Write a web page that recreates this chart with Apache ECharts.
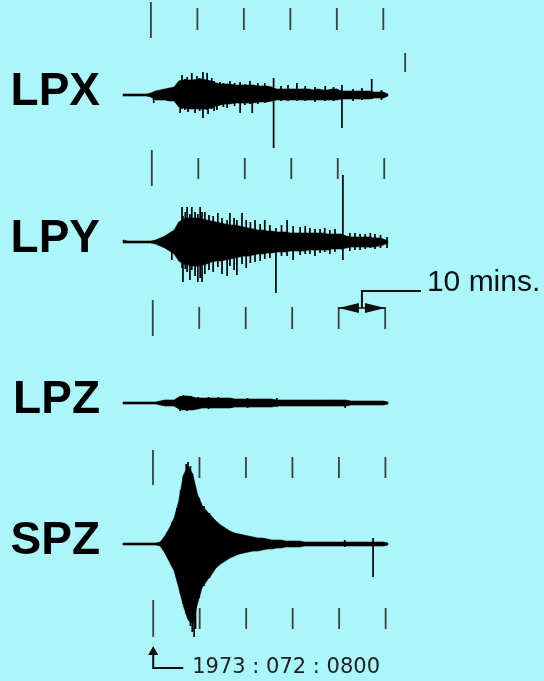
<!DOCTYPE html>
<html>
<head>
<meta charset="utf-8">
<script src="https://cdn.jsdelivr.net/npm/echarts@6/dist/echarts.min.js"></script>
<style>
html,body{margin:0;padding:0;background:#aaf6fa;}
#main{width:544px;height:681px;}
</style>
</head>
<body>
<div id="main"></div>
<script>
// 通道
var channels = ['LPX', 'LPY', 'LPZ', 'SPZ'];
// trace baselines, record units (downwards)
var baselines = [95, 242, 403, 544];
// one sample per minute, -6 .. 51 min after 08:00
var sampleTimes = [-6, -5, -4, -3, -2, -1, 0, 1, 2, 3, 4, 5, 6, 7, 8, 9, 10, 11, 12, 13,
  14, 15, 16, 17, 18, 19, 20, 21, 22, 23, 24, 25, 26, 27, 28, 29, 30, 31, 32, 33,
  34, 35, 36, 37, 38, 39, 40, 41, 42, 43, 44, 45, 46, 47, 48, 49, 50, 51];

// envelope above / below baseline
var lpxUp = [1, 1, 1, 1, 1, 1, 2, 4, 5, 6, 7, 8, 14, 15, 15, 15, 16, 16, 15, 14, 12, 11,
  11, 11, 10, 10, 10, 10, 10, 9, 9, 9, 8, 6, 6, 6, 6, 6, 6, 6, 6, 5,
  6, 5, 5, 6, 6, 4, 4, 4, 4, 4, 4, 4, 3, 3, 3, 1];
var lpxDown = [1, 1, 1, 1, 1, 1, 2, 5, 5, 5, 6, 6, 12, 13, 14, 14, 14, 14, 14, 13, 11, 10,
  9, 9, 8, 8, 8, 8, 8, 7, 7, 7, 6, 5, 5, 5, 5, 5, 5, 5, 5, 5,
  5, 5, 5, 5, 5, 4, 4, 4, 4, 4, 4, 4, 3, 3, 3, 1];
var lpyUp = [2, 1, 1, 1, 1, 1, 1, 2, 4, 6, 9, 12, 20, 23, 24, 24, 24, 23, 22, 21, 20, 19,
  18, 17, 17, 16, 15, 14, 13, 12, 12, 11, 11, 10, 10, 10, 9, 9, 9, 9, 9, 9,
  9, 9, 8, 8, 8, 8, 6, 5, 5, 5, 5, 5, 4, 4, 3, 1];
var lpyDown = [1, 1, 1, 1, 1, 1, 1, 2, 4, 6, 9, 12, 19, 22, 23, 24, 24, 23, 22, 20, 19, 19,
  18, 17, 16, 15, 14, 14, 13, 12, 12, 11, 11, 10, 10, 10, 9, 9, 9, 9, 8, 8,
  8, 8, 8, 7, 7, 7, 6, 5, 5, 5, 5, 5, 5, 4, 3, 1];
var lpzUp = [1, 1, 1, 1, 1, 1, 1, 1, 2, 3, 3, 3, 6, 7, 7, 6, 5, 5, 5, 5, 5, 5,
  5, 5, 4, 4, 4, 4, 4, 4, 4, 4, 4, 3, 3, 3, 3, 3, 3, 3, 3, 3,
  3, 3, 3, 3, 3, 3, 3, 2, 2, 2, 2, 2, 2, 2, 2, 1];
var lpzDown = [1, 1, 1, 1, 1, 1, 1, 1, 2, 3, 3, 3, 6, 7, 7, 7, 6, 5, 5, 5, 5, 5,
  5, 5, 4, 4, 4, 4, 4, 4, 4, 4, 4, 3, 3, 3, 3, 3, 3, 3, 3, 3,
  3, 3, 3, 3, 3, 3, 3, 2, 2, 2, 2, 2, 2, 2, 2, 1];
var spzUp = [1, 1, 1, 1, 1, 1, 1, 1, 2, 8, 16, 26, 43, 69, 78, 70, 50, 39, 33, 28, 23, 19,
  16, 13, 11, 10, 9, 8, 7, 6, 6, 5, 4, 4, 4, 3, 3, 3, 3, 2, 2, 2,
  2, 2, 2, 2, 2, 2, 2, 2, 2, 2, 2, 2, 2, 2, 2, 1];
var spzDown = [1, 1, 1, 1, 1, 1, 1, 1, 2, 9, 18, 27, 44, 62, 76, 80, 60, 44, 37, 31, 24, 20,
  17, 14, 12, 10, 9, 8, 7, 7, 6, 5, 5, 4, 4, 3, 3, 3, 3, 2, 2, 2,
  2, 2, 2, 2, 2, 2, 2, 2, 2, 2, 2, 2, 2, 2, 2, 1];

// single spikes [min, up, down]
var lpxSpikes = [[0.6, 2, 8], [6.3, 12, 18], [6.7, 20, 14], [7.3, 16, 15], [7.8, 18, 12],
  [8.0, 14, 17], [8.8, 22, 14], [9.5, 15, 18], [9.9, 19, 14], [10.5, 17, 16],
  [11.2, 23, 23], [12.1, 22, 15], [12.3, 15, 19], [13.1, 17, 14], [13.6, 14, 16],
  [14.2, 12, 15], [14.9, 13, 10], [15.6, 12, 12], [16.4, 10, 13], [17.0, 14, 9],
  [18.0, 12, 11], [19.2, 13, 18], [20.2, 11, 10], [21.3, 14, 9], [21.8, 10, 18],
  [23.0, 12, 9], [24.5, 12, 8], [26.4, 17, 53], [28.0, 9, 6], [29.5, 10, 6],
  [31.4, 12, 6], [33.2, 9, 6], [35.3, 8, 7], [37.5, 9, 6], [39.3, 8, 6],
  [41.1, 10, 33], [43.5, 6, 6], [45.4, 7, 5], [47.5, 16, 4], [49.6, 5, 5]];
var lpySpikes = [[4.5, 10, 18], [6.7, 35, 26], [6.9, 26, 40], [7.4, 30, 27], [7.8, 35, 30],
  [8.4, 28, 38], [8.8, 35, 28], [9.5, 30, 34], [10.1, 28, 40], [10.6, 35, 36],
  [11.0, 30, 40], [11.6, 30, 32], [12.5, 27, 28], [13.4, 26, 30], [14.4, 29, 25],
  [15.3, 24, 32], [16.4, 22, 34], [17.0, 29, 24], [17.9, 24, 28], [18.5, 22, 33],
  [19.6, 29, 22], [20.5, 22, 26], [21.4, 20, 21], [22.4, 22, 20], [23.5, 18, 19],
  [24.5, 22, 17], [25.6, 17, 16], [26.9, 14, 51], [28.1, 17, 14], [29.3, 22, 14],
  [30.6, 16, 18], [32.1, 15, 13], [33.2, 16, 12], [34.2, 14, 12], [35.3, 13, 14],
  [36.4, 13, 11], [37.4, 14, 10], [38.5, 12, 12], [39.6, 13, 10], [41.3, 67, 18],
  [42.8, 9, 9], [43.9, 9, 8], [45.0, 8, 8], [46.1, 8, 7], [47.2, 9, 6],
  [48.2, 8, 7], [49.4, 7, 6], [50.8, 5, 6]];
var lpzSpikes = [[6.3, 7, 8], [7.0, 8, 7], [7.8, 7, 8], [8.6, 7, 6], [10.2, 6, 6],
  [12.4, 6, 6], [14.5, 6, 5], [17.3, 5, 5], [20.8, 5, 5], [27.1, 5, 4], [41.8, 2, 5]];
var spzSpikes = [[4.6, 22, 22], [5.6, 36, 32], [6.4, 54, 50], [7.0, 68, 60], [7.6, 80, 70],
  [8.0, 82, 74], [8.5, 78, 82], [8.9, 70, 88], [9.3, 62, 93], [9.6, 55, 85],
  [10.4, 46, 54], [11.4, 38, 42], [12.6, 31, 34], [41.7, 4, 3], [47.8, 6, 33]];

// time marks, every 10 minutes
var markTimes = [0, 10, 20, 30, 40, 50];
var rowShift = [0, 0.2, 0.4, 0.45, 0.5];
var rowFirstTop = [2, 150, 300, 450, 600];
var rowFirstBottom = [38, 186, 336, 485, 637];
var rowTop = [8, 158, 307, 457, 608];
var rowBottom = [30, 179, 329, 478, 629];
var strayMark = [54.7, 53, 72];

var envelopes = [
  {up: lpxUp, down: lpxDown, spikes: lpxSpikes},
  {up: lpyUp, down: lpyDown, spikes: lpySpikes},
  {up: lpzUp, down: lpzDown, spikes: lpzSpikes},
  {up: spzUp, down: spzDown, spikes: spzSpikes}
];

function renderTrace(params, api) {
  var c = api.value(0);
  var env = envelopes[c];
  var base = baselines[c];
  var pts = [];
  for (var i = 0; i < sampleTimes.length; i++) {
    pts.push(api.coord([sampleTimes[i], base - env.up[i]]));
  }
  for (var j = sampleTimes.length - 1; j >= 0; j--) {
    pts.push(api.coord([sampleTimes[j], base + env.down[j]]));
  }
  var children = [{
    type: 'polygon', shape: {points: pts},
    style: {fill: '#000', stroke: '#000', lineWidth: 0.6, lineJoin: 'round'}
  }];
  env.spikes.forEach(function (s) {
    var a = api.coord([s[0], base - s[1]]);
    var b = api.coord([s[0], base + s[2]]);
    children.push({type: 'line', shape: {x1: a[0], y1: a[1], x2: b[0], y2: b[1]},
      style: {stroke: '#000', lineWidth: 1.7}});
  });
  var p = api.coord([sampleTimes[0], base]);
  children.push({type: 'text', x: p[0] - 23, y: p[1] - 3,
    style: {text: channels[c], fill: '#000', align: 'right', verticalAlign: 'middle',
      font: 'bold 46px "Liberation Sans", Arial, sans-serif'}});
  return {type: 'group', children: children};
}

function renderMark(params, api) {
  var r = api.value(0), t = api.value(1);
  var first = t === 0;
  var a = api.coord([t + rowShift[r], first ? rowFirstTop[r] : rowTop[r]]);
  var b = api.coord([t + rowShift[r], first ? rowFirstBottom[r] : rowBottom[r]]);
  return {type: 'line', shape: {x1: a[0], y1: a[1], x2: b[0], y2: b[1]},
    style: {stroke: '#3e3e3e', lineWidth: 1.8}};
}

function renderNotes(params, api) {
  var col = '#111';
  // 10 mins span between last two marks of row 2
  var l = api.coord([40 + rowShift[2], 308]);
  var r = api.coord([50 + rowShift[2], 308]);
  var mid = (l[0] + r[0]) / 2;
  var y = l[1];
  var kids = [
    {type: 'polygon', shape: {points: [[l[0], y], [mid - 3, y - 5], [mid - 3, y + 5]]}, style: {fill: col}},
    {type: 'polygon', shape: {points: [[r[0], y], [mid + 3, y - 5], [mid + 3, y + 5]]}, style: {fill: col}},
    {type: 'line', shape: {x1: l[0], y1: y, x2: r[0], y2: y}, style: {stroke: col, lineWidth: 1.5}},
    {type: 'polyline', shape: {points: [[mid, y], [mid, y - 17], [mid + 59, y - 17]]}, style: {stroke: col, lineWidth: 2, fill: null}},
    {type: 'text', x: mid + 65, y: y - 25, style: {text: '10 mins.', fill: col, align: 'left', verticalAlign: 'middle',
      font: '30px "Liberation Sans", Arial, sans-serif'}}
  ];
  // start time marker
  var s = api.coord([0 + rowShift[4], 646]);
  var x0 = s[0], yt = s[1];
  kids.push(
    {type: 'polygon', shape: {points: [[x0, yt], [x0 - 5, yt + 9], [x0 + 5, yt + 9]]}, style: {fill: col}},
    {type: 'polyline', shape: {points: [[x0, yt + 8], [x0, yt + 22], [x0 + 30, yt + 22]]}, style: {stroke: col, lineWidth: 2, fill: null}},
    {type: 'text', x: x0 + 39, y: yt + 22, style: {text: '1973 : 072 : 0800', fill: '#222', align: 'left', verticalAlign: 'middle',
      font: '21px "DejaVu Sans", sans-serif'}}
  );
  return {type: 'group', children: kids};
}

var markData = [];
for (var r = 0; r < rowShift.length; r++) {
  markTimes.forEach(function (t) { markData.push([r, t]); });
}

var chart = echarts.init(document.getElementById('main'));
chart.setOption({
  backgroundColor: '#aaf6fa',
  animation: false,
  grid: {left: 123, right: 123.5, top: 0, bottom: 0},
  xAxis: {type: 'value', min: -6, max: 58, show: false},
  yAxis: {type: 'value', min: 0, max: 681, inverse: true, show: false},
  series: [
    {type: 'custom', silent: true, renderItem: renderMark, data: markData},
    {type: 'custom', silent: true, data: [[strayMark[0], strayMark[1]]],
      renderItem: function (params, api) {
        var a = api.coord([strayMark[0], strayMark[1]]), b = api.coord([strayMark[0], strayMark[2]]);
        return {type: 'line', shape: {x1: a[0], y1: a[1], x2: b[0], y2: b[1]}, style: {stroke: '#3e3e3e', lineWidth: 1.8}};
      }},
    {type: 'custom', silent: true, renderItem: renderTrace, data: [[0, 0], [1, 0], [2, 0], [3, 0]]},
    {type: 'custom', silent: true, renderItem: renderNotes, data: [[0, 0]]}
  ]
});
</script>
</body>
</html>
